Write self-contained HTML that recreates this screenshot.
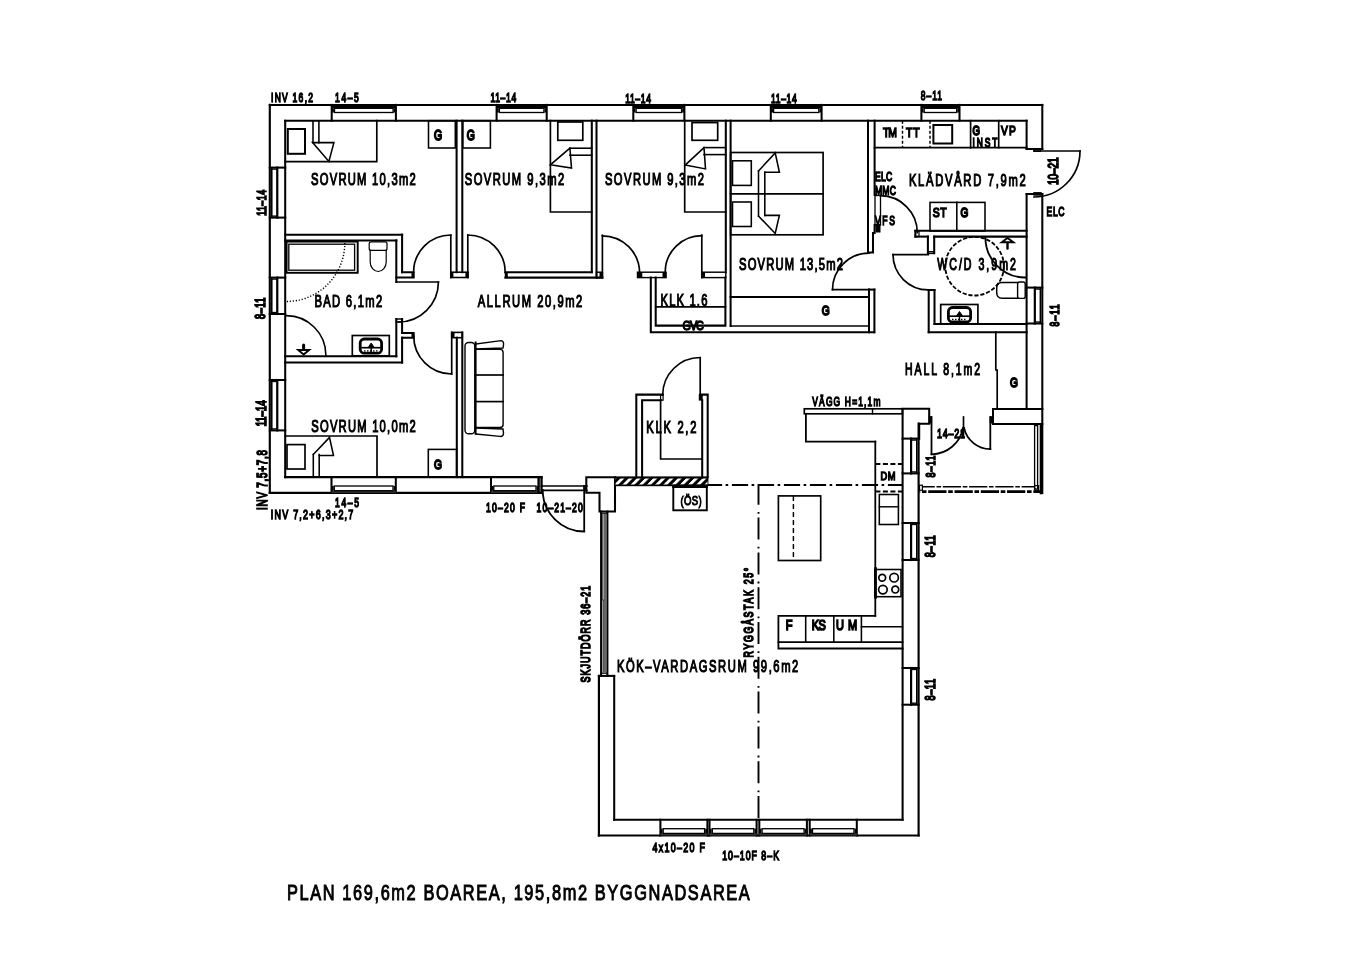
<!DOCTYPE html>
<html><head><meta charset="utf-8"><style>
html,body{margin:0;padding:0;background:#fff;overflow:hidden;}
svg{display:block;filter:grayscale(1);}
text{font-family:"Liberation Sans",sans-serif;fill:#000;stroke:#000;}
</style></head><body>
<svg width="1358" height="960" viewBox="0 0 1358 960" stroke="#000" stroke-linecap="square" fill="none">
<rect x="0" y="0" width="1358" height="960" fill="#fff" stroke="none"/>
<line x1="269.8" y1="104.9" x2="1042.3" y2="104.9" stroke-width="2.0" />
<line x1="285.2" y1="120.7" x2="1026.6" y2="120.7" stroke-width="2.05" />
<line x1="269.8" y1="104.9" x2="269.8" y2="492.8" stroke-width="2.16" />
<line x1="285.2" y1="120.7" x2="285.2" y2="477.1" stroke-width="2.05" />
<line x1="269.8" y1="492.8" x2="541.6" y2="492.8" stroke-width="2.16" />
<line x1="285.2" y1="477.1" x2="541.6" y2="477.1" stroke-width="2.05" />
<line x1="541.6" y1="477.1" x2="541.6" y2="492.8" stroke-width="2.05" />
<line x1="1042.3" y1="104.9" x2="1042.3" y2="149" stroke-width="2.05" />
<line x1="1026.6" y1="120.7" x2="1026.6" y2="149" stroke-width="2.05" />
<line x1="1026.6" y1="149" x2="1042.3" y2="149" stroke-width="2.05" />
<line x1="1042.3" y1="194" x2="1042.3" y2="493" stroke-width="2.05" />
<line x1="1026.6" y1="194" x2="1026.6" y2="409" stroke-width="2.05" />
<line x1="1026.6" y1="194" x2="1042.3" y2="194" stroke-width="2.05" />
<line x1="331.7" y1="104.9" x2="331.7" y2="120.7" stroke-width="2.05" />
<line x1="395.9" y1="104.9" x2="395.9" y2="120.7" stroke-width="2.05" />
<rect x="331.7" y="104.9" width="64.19999999999999" height="3.4000000000000057" stroke="none" fill="#000"/>
<rect x="334.5" y="108.30000000000001" width="58.599999999999966" height="4.199999999999989" stroke-width="1.32" fill="none" />
<rect x="331.7" y="108.30000000000001" width="2.1999999999999886" height="4.199999999999989" stroke="none" fill="#000"/>
<rect x="393.7" y="108.30000000000001" width="2.1999999999999886" height="4.199999999999989" stroke="none" fill="#000"/>
<line x1="496.6" y1="104.9" x2="496.6" y2="120.7" stroke-width="2.05" />
<line x1="546.7" y1="104.9" x2="546.7" y2="120.7" stroke-width="2.05" />
<rect x="496.6" y="104.9" width="50.10000000000002" height="3.4000000000000057" stroke="none" fill="#000"/>
<rect x="499.40000000000003" y="108.30000000000001" width="44.50000000000006" height="4.199999999999989" stroke-width="1.32" fill="none" />
<rect x="496.6" y="108.30000000000001" width="2.1999999999999886" height="4.199999999999989" stroke="none" fill="#000"/>
<rect x="544.5" y="108.30000000000001" width="2.2000000000000455" height="4.199999999999989" stroke="none" fill="#000"/>
<line x1="633.3" y1="104.9" x2="633.3" y2="120.7" stroke-width="2.05" />
<line x1="684.4" y1="104.9" x2="684.4" y2="120.7" stroke-width="2.05" />
<rect x="633.3" y="104.9" width="51.10000000000002" height="3.4000000000000057" stroke="none" fill="#000"/>
<rect x="636.0999999999999" y="108.30000000000001" width="45.500000000000114" height="4.199999999999989" stroke-width="1.32" fill="none" />
<rect x="633.3" y="108.30000000000001" width="2.2000000000000455" height="4.199999999999989" stroke="none" fill="#000"/>
<rect x="682.1999999999999" y="108.30000000000001" width="2.2000000000000455" height="4.199999999999989" stroke="none" fill="#000"/>
<line x1="770.8" y1="104.9" x2="770.8" y2="120.7" stroke-width="2.05" />
<line x1="821.6" y1="104.9" x2="821.6" y2="120.7" stroke-width="2.05" />
<rect x="770.8" y="104.9" width="50.80000000000007" height="3.4000000000000057" stroke="none" fill="#000"/>
<rect x="773.5999999999999" y="108.30000000000001" width="45.20000000000016" height="4.199999999999989" stroke-width="1.32" fill="none" />
<rect x="770.8" y="108.30000000000001" width="2.2000000000000455" height="4.199999999999989" stroke="none" fill="#000"/>
<rect x="819.4" y="108.30000000000001" width="2.2000000000000455" height="4.199999999999989" stroke="none" fill="#000"/>
<line x1="921.4" y1="104.9" x2="921.4" y2="120.7" stroke-width="2.05" />
<line x1="959.5" y1="104.9" x2="959.5" y2="120.7" stroke-width="2.05" />
<rect x="921.4" y="104.9" width="38.10000000000002" height="3.4000000000000057" stroke="none" fill="#000"/>
<rect x="924.1999999999999" y="108.30000000000001" width="32.500000000000114" height="4.199999999999989" stroke-width="1.32" fill="none" />
<rect x="921.4" y="108.30000000000001" width="2.2000000000000455" height="4.199999999999989" stroke="none" fill="#000"/>
<rect x="957.3" y="108.30000000000001" width="2.2000000000000455" height="4.199999999999989" stroke="none" fill="#000"/>
<line x1="269.8" y1="167.6" x2="285.2" y2="167.6" stroke-width="2.05" />
<line x1="269.8" y1="217.6" x2="285.2" y2="217.6" stroke-width="2.05" />
<rect x="271.6" y="169.1" width="5.699999999999989" height="47.0" stroke-width="1.32" fill="none" />
<line x1="271.8" y1="167.6" x2="271.8" y2="217.6" stroke-width="1.2" />
<line x1="277.3" y1="167.6" x2="277.3" y2="217.6" stroke-width="2.16" />
<line x1="269.8" y1="277.6" x2="285.2" y2="277.6" stroke-width="2.05" />
<line x1="269.8" y1="314.0" x2="285.2" y2="314.0" stroke-width="2.05" />
<rect x="271.6" y="279.1" width="5.699999999999989" height="33.39999999999998" stroke-width="1.32" fill="none" />
<line x1="271.8" y1="277.6" x2="271.8" y2="314.0" stroke-width="1.2" />
<line x1="277.3" y1="277.6" x2="277.3" y2="314.0" stroke-width="2.16" />
<line x1="269.8" y1="380.0" x2="285.2" y2="380.0" stroke-width="2.05" />
<line x1="269.8" y1="430.4" x2="285.2" y2="430.4" stroke-width="2.05" />
<rect x="271.6" y="381.5" width="5.699999999999989" height="47.39999999999998" stroke-width="1.32" fill="none" />
<line x1="271.8" y1="380.0" x2="271.8" y2="430.4" stroke-width="1.2" />
<line x1="277.3" y1="380.0" x2="277.3" y2="430.4" stroke-width="2.16" />
<line x1="331.5" y1="492.8" x2="331.5" y2="477.1" stroke-width="2.05" />
<line x1="395.8" y1="492.8" x2="395.8" y2="477.1" stroke-width="2.05" />
<rect x="331.5" y="490.5" width="64.30000000000001" height="2.3" fill="#333" stroke="none"/>
<rect x="334.3" y="486.0" width="58.69999999999999" height="4.699999999999989" stroke-width="1.32" fill="none" />
<rect x="331.5" y="486.0" width="2.1999999999999886" height="4.699999999999989" stroke="none" fill="#000"/>
<rect x="393.6" y="486.0" width="2.1999999999999886" height="4.699999999999989" stroke="none" fill="#000"/>
<line x1="491.0" y1="492.8" x2="491.0" y2="477.1" stroke-width="2.05" />
<line x1="538.8" y1="492.8" x2="538.8" y2="477.1" stroke-width="2.05" />
<rect x="491.0" y="490.5" width="47.799999999999955" height="2.3" fill="#333" stroke="none"/>
<rect x="493.8" y="486.0" width="42.19999999999999" height="4.699999999999989" stroke-width="1.32" fill="none" />
<rect x="491.0" y="486.0" width="2.1999999999999886" height="4.699999999999989" stroke="none" fill="#000"/>
<rect x="536.5999999999999" y="486.0" width="2.2000000000000455" height="4.699999999999989" stroke="none" fill="#000"/>
<line x1="1042.3" y1="287.6" x2="1026.6" y2="287.6" stroke-width="2.05" />
<line x1="1042.3" y1="323.5" x2="1026.6" y2="323.5" stroke-width="2.05" />
<rect x="1034.8" y="289.1" width="5.7000000000000455" height="32.89999999999998" stroke-width="1.32" fill="none" />
<line x1="1040.3" y1="287.6" x2="1040.3" y2="323.5" stroke-width="1.2" />
<line x1="1034.8" y1="287.6" x2="1034.8" y2="323.5" stroke-width="2.16" />
<line x1="541.6" y1="486.0" x2="587" y2="486.0" stroke-width="1.56" />
<line x1="541.6" y1="490.4" x2="587" y2="490.4" stroke-width="1.56" />
<rect x="583.4" y="485.5" width="3.6000000000000227" height="5.5" stroke="none" fill="#000"/>
<line x1="538.3" y1="477.1" x2="538.3" y2="492.8" stroke-width="1.56" />
<line x1="541.4" y1="477.1" x2="541.4" y2="492.8" stroke-width="1.56" />
<line x1="584.2" y1="486" x2="584.2" y2="531" stroke-width="1.8" />
<path d="M542.70,490.00 A41.5,41.5 0 0 0 584.20,531.50" stroke-width="1.8" fill="none" />
<polyline points="586.3,477.3 615,477.3 615,511.5 599.5,511.5 599.5,492.8 586.3,492.8 586.3,477.3" stroke-width="2.05" fill="none" />
<line x1="598.9" y1="675.9" x2="598.9" y2="835.5" stroke-width="2.16" />
<line x1="614.2" y1="675.9" x2="614.2" y2="819.8" stroke-width="2.05" />
<line x1="598.9" y1="675.9" x2="614.2" y2="675.9" stroke-width="2.05" />
<line x1="598.9" y1="835.5" x2="918.6" y2="835.5" stroke-width="2.16" />
<line x1="614.2" y1="819.8" x2="902.6" y2="819.8" stroke-width="2.05" />
<line x1="918.6" y1="423.7" x2="918.6" y2="835.5" stroke-width="2.16" />
<line x1="902.6" y1="409" x2="902.6" y2="819.8" stroke-width="2.05" />
<line x1="660.4" y1="835.5" x2="660.4" y2="819.8" stroke-width="2.05" />
<line x1="707.4" y1="835.5" x2="707.4" y2="819.8" stroke-width="2.05" />
<rect x="660.4" y="833.2" width="47.0" height="2.3" fill="#333" stroke="none"/>
<rect x="663.1999999999999" y="828.7" width="41.40000000000009" height="4.699999999999932" stroke-width="1.32" fill="none" />
<rect x="660.4" y="828.7" width="2.2000000000000455" height="4.699999999999932" stroke="none" fill="#000"/>
<rect x="705.1999999999999" y="828.7" width="2.2000000000000455" height="4.699999999999932" stroke="none" fill="#000"/>
<line x1="709.5" y1="835.5" x2="709.5" y2="819.8" stroke-width="2.05" />
<line x1="756.6" y1="835.5" x2="756.6" y2="819.8" stroke-width="2.05" />
<rect x="709.5" y="833.2" width="47.10000000000002" height="2.3" fill="#333" stroke="none"/>
<rect x="712.3" y="828.7" width="41.500000000000114" height="4.699999999999932" stroke-width="1.32" fill="none" />
<rect x="709.5" y="828.7" width="2.2000000000000455" height="4.699999999999932" stroke="none" fill="#000"/>
<rect x="754.4" y="828.7" width="2.2000000000000455" height="4.699999999999932" stroke="none" fill="#000"/>
<line x1="759.3" y1="835.5" x2="759.3" y2="819.8" stroke-width="2.05" />
<line x1="806.9" y1="835.5" x2="806.9" y2="819.8" stroke-width="2.05" />
<rect x="759.3" y="833.2" width="47.60000000000002" height="2.3" fill="#333" stroke="none"/>
<rect x="762.0999999999999" y="828.7" width="42.000000000000114" height="4.699999999999932" stroke-width="1.32" fill="none" />
<rect x="759.3" y="828.7" width="2.2000000000000455" height="4.699999999999932" stroke="none" fill="#000"/>
<rect x="804.6999999999999" y="828.7" width="2.2000000000000455" height="4.699999999999932" stroke="none" fill="#000"/>
<line x1="809.7" y1="835.5" x2="809.7" y2="819.8" stroke-width="2.05" />
<line x1="856.8" y1="835.5" x2="856.8" y2="819.8" stroke-width="2.05" />
<rect x="809.7" y="833.2" width="47.09999999999991" height="2.3" fill="#333" stroke="none"/>
<rect x="812.5" y="828.7" width="41.5" height="4.699999999999932" stroke-width="1.32" fill="none" />
<rect x="809.7" y="828.7" width="2.2000000000000455" height="4.699999999999932" stroke="none" fill="#000"/>
<rect x="854.5999999999999" y="828.7" width="2.2000000000000455" height="4.699999999999932" stroke="none" fill="#000"/>
<line x1="918.6" y1="438.6" x2="902.6" y2="438.6" stroke-width="2.05" />
<line x1="918.6" y1="473.4" x2="902.6" y2="473.4" stroke-width="2.05" />
<rect x="911.1" y="440.1" width="5.7000000000000455" height="31.799999999999955" stroke-width="1.32" fill="none" />
<line x1="916.6" y1="438.6" x2="916.6" y2="473.4" stroke-width="1.2" />
<line x1="911.1" y1="438.6" x2="911.1" y2="473.4" stroke-width="2.16" />
<line x1="918.6" y1="523.0" x2="902.6" y2="523.0" stroke-width="2.05" />
<line x1="918.6" y1="560.0" x2="902.6" y2="560.0" stroke-width="2.05" />
<rect x="911.1" y="524.5" width="5.7000000000000455" height="34.0" stroke-width="1.32" fill="none" />
<line x1="916.6" y1="523.0" x2="916.6" y2="560.0" stroke-width="1.2" />
<line x1="911.1" y1="523.0" x2="911.1" y2="560.0" stroke-width="2.16" />
<line x1="918.6" y1="668.0" x2="902.6" y2="668.0" stroke-width="2.05" />
<line x1="918.6" y1="704.7" x2="902.6" y2="704.7" stroke-width="2.05" />
<rect x="911.1" y="669.5" width="5.7000000000000455" height="33.700000000000045" stroke-width="1.32" fill="none" />
<line x1="916.6" y1="668.0" x2="916.6" y2="704.7" stroke-width="1.2" />
<line x1="911.1" y1="668.0" x2="911.1" y2="704.7" stroke-width="2.16" />
<line x1="601.1" y1="511.6" x2="601.1" y2="675.9" stroke-width="2.04" />
<line x1="607.4" y1="511.6" x2="607.4" y2="675.9" stroke-width="2.04" />
<line x1="602.9" y1="514" x2="602.9" y2="600" stroke-width="0.96" />
<line x1="605.0" y1="514" x2="605.0" y2="672" stroke-width="1.2" />
<line x1="603.2" y1="600" x2="603.2" y2="672" stroke-width="0.96" />
<line x1="601.1" y1="513.2" x2="607.4" y2="513.2" stroke-width="1.2" />
<line x1="601.1" y1="673.2" x2="607.4" y2="673.2" stroke-width="1.2" />
<defs><pattern id="hatch" patternUnits="userSpaceOnUse" width="8.2" height="8" patternTransform="skewX(-45)"><rect x="0" y="0" width="4.0" height="8" fill="#fff" stroke="none"/></pattern></defs>
<rect x="614.5" y="476.4" width="93.89999999999998" height="9.800000000000011" stroke="none" fill="#000"/>
<rect x="615.5" y="478.5" width="92" height="6.0" fill="url(#hatch)" stroke="none"/>
<line x1="673.3" y1="486.8" x2="706.8" y2="486.8" stroke-width="2.2" />
<polyline points="376.8,120.7 376.8,161.7 285.2,161.7" stroke-width="1.68" fill="none" />
<rect x="287.8" y="129.0" width="17.19999999999999" height="24.80000000000001" stroke-width="2.0" fill="none" />
<line x1="313.0" y1="120.7" x2="313.0" y2="142.6" stroke-width="1.56" />
<line x1="318.9" y1="120.7" x2="318.9" y2="142.6" stroke-width="1.56" />
<polygon points="312.6,142.6 333.9,142.6 328.9,161.4 312.6,142.6" stroke-width="1.56" fill="none" />
<rect x="428.5" y="120.7" width="26.80000000000001" height="27.299999999999997" stroke-width="1.56" fill="none" />
<rect x="462.8" y="120.7" width="27.599999999999966" height="27.299999999999997" stroke-width="1.56" fill="none" />
<line x1="456.6" y1="120.7" x2="456.6" y2="272.2" stroke-width="2.05" />
<line x1="462.3" y1="120.7" x2="462.3" y2="272.2" stroke-width="2.05" />
<rect x="450.8" y="272.2" width="17.19999999999999" height="5.300000000000011" stroke-width="1.56" fill="none" />
<rect x="450.3" y="272.0" width="3.099999999999966" height="5.899999999999977" stroke="none" fill="#000"/>
<rect x="465.4" y="272.0" width="3.1000000000000227" height="5.899999999999977" stroke="none" fill="#000"/>
<line x1="450.8" y1="235.2" x2="450.8" y2="277.5" stroke-width="1.68" />
<path d="M450.80,235.00 A37.2,37.2 0 0 0 413.60,272.20" stroke-width="1.68" fill="none" />
<line x1="467.8" y1="235.2" x2="467.8" y2="277.5" stroke-width="1.68" />
<path d="M467.80,235.00 A37.4,37.4 0 0 1 505.20,272.40" stroke-width="1.68" fill="none" />
<line x1="285.2" y1="234.7" x2="402.1" y2="234.7" stroke-width="2.05" />
<line x1="285.2" y1="240.4" x2="396.3" y2="240.4" stroke-width="2.05" />
<line x1="402.1" y1="234.7" x2="402.1" y2="272.2" stroke-width="2.05" />
<line x1="396.3" y1="240.4" x2="396.3" y2="282.0" stroke-width="2.05" />
<polyline points="402.1,272.2 413.6,272.2 413.6,277.5 396.3,277.5" stroke-width="2.05" fill="none" />
<rect x="411.5" y="272.0" width="2.6999999999999886" height="5.899999999999977" stroke="none" fill="#000"/>
<line x1="396.3" y1="282.0" x2="438.4" y2="282.0" stroke-width="1.68" />
<path d="M438.40,282.00 A40.0,40.0 0 0 1 398.40,322.00" stroke-width="1.68" fill="none" />
<rect x="396.3" y="319.0" width="5.800000000000011" height="3.0" stroke-width="1.44" fill="none" />
<line x1="402.1" y1="319.0" x2="402.1" y2="333.0" stroke-width="2.05" />
<polyline points="402.1,333.0 413.6,333.0 413.6,337.7 402.1,337.7" stroke-width="2.05" fill="none" />
<rect x="411.5" y="332.8" width="2.6999999999999886" height="5.199999999999989" stroke="none" fill="#000"/>
<line x1="402.1" y1="337.7" x2="402.1" y2="362.5" stroke-width="2.05" />
<line x1="396.3" y1="319.0" x2="396.3" y2="356.3" stroke-width="2.05" />
<line x1="285.2" y1="356.3" x2="396.3" y2="356.3" stroke-width="2.05" />
<line x1="285.2" y1="362.5" x2="402.1" y2="362.5" stroke-width="2.05" />
<rect x="286.6" y="241.6" width="71.09999999999997" height="31.200000000000017" stroke-width="1.92" fill="none" />
<rect x="288.8" y="244.2" width="65.80000000000001" height="26.0" stroke-width="1.32" fill="none" />
<rect x="369.2" y="241.8" width="17.8" height="8.6" rx="2" stroke-width="1.2" fill="none"/>
<path d="M370.2,250.4 L370.2,262 A8,9.5 0 0 0 386.2,262 L386.2,250.4" stroke-width="1.2" fill="none"/>
<path d="M344.80,243.00 A58.5,58.5 0 0 1 286.30,301.50" stroke-width="1.44" fill="none" stroke-linecap="butt" stroke-dasharray="1.2 1.8"/>
<path d="M286.30,315.60 A39.6,39.6 0 0 1 325.90,355.20" stroke-width="1.56" fill="none" />
<line x1="303.6" y1="345.0" x2="303.6" y2="349.0" stroke-width="3.0" stroke-linecap="round"/>
<polygon points="298.2,350.0 309.2,350.0 303.6,354.6" stroke-width="1.92" fill="none" />
<rect x="352.3" y="335.5" width="37.0" height="20.30000000000001" stroke-width="1.68" fill="none" />
<rect x="360.2" y="339.0" width="21.4" height="14.2" rx="4" stroke-width="2.8" fill="none"/>
<line x1="362" y1="347.7" x2="380" y2="347.7" stroke-width="1.68" />
<polygon points="368.4,347.2 371.2,343.0 374.0,347.2" fill="#000" stroke-width="1.0"/>
<line x1="371.2" y1="347.7" x2="371.2" y2="352.5" stroke-width="1.44" />
<line x1="364" y1="350.8" x2="378" y2="350.8" stroke-width="1.2" stroke-linecap="butt" stroke-dasharray="1.5 1.5"/>
<rect x="451.7" y="332.4" width="10.600000000000023" height="5.300000000000011" stroke-width="1.56" fill="none" />
<rect x="451.2" y="332.2" width="3.3000000000000114" height="5.800000000000011" stroke="none" fill="#000"/>
<line x1="456.8" y1="337.7" x2="456.8" y2="477.1" stroke-width="2.05" />
<line x1="462.3" y1="332.4" x2="462.3" y2="477.1" stroke-width="2.05" />
<line x1="451.7" y1="332.4" x2="451.7" y2="374.0" stroke-width="1.68" />
<path d="M451.70,374.00 A38.0,38.0 0 0 1 413.70,336.00" stroke-width="1.68" fill="none" />
<polyline points="285.2,436.0 377.0,436.0 377.0,477.1" stroke-width="1.68" fill="none" />
<rect x="287.0" y="444.6" width="18.0" height="24.399999999999977" stroke-width="1.68" fill="none" />
<line x1="313.3" y1="454.5" x2="313.3" y2="477.1" stroke-width="1.56" />
<line x1="319.2" y1="454.5" x2="319.2" y2="477.1" stroke-width="1.56" />
<polyline points="313.3,454.5 329.5,437.4 333.5,455.5 319.2,455.5" stroke-width="1.56" fill="none" />
<rect x="428.3" y="449.4" width="28.30000000000001" height="27.700000000000045" stroke-width="1.56" fill="none" />
<line x1="505.4" y1="272.2" x2="591.8" y2="272.2" stroke-width="2.05" />
<line x1="505.4" y1="277.6" x2="602.4" y2="277.6" stroke-width="2.05" />
<rect x="504.8" y="272.0" width="3.0" height="6.0" stroke="none" fill="#000"/>
<line x1="591.8" y1="120.7" x2="591.8" y2="272.2" stroke-width="2.05" />
<line x1="596.5" y1="120.7" x2="596.5" y2="277.6" stroke-width="2.05" />
<rect x="596.5" y="272.2" width="5.899999999999977" height="5.400000000000034" stroke-width="1.44" fill="none" />
<rect x="599.5" y="272.0" width="3.3999999999999773" height="6.0" stroke="none" fill="#000"/>
<polyline points="550.4,120.7 550.4,212.0 591.8,212.0" stroke-width="1.68" fill="none" />
<rect x="557.8" y="122.0" width="25.0" height="18.30000000000001" stroke-width="1.68" fill="none" />
<line x1="569.9" y1="148.2" x2="591.8" y2="148.2" stroke-width="1.56" />
<line x1="569.9" y1="155.2" x2="591.8" y2="155.2" stroke-width="1.56" />
<polyline points="569.9,148.2 550.4,164.8 571.5,168.0 569.9,148.2" stroke-width="1.56" fill="none" />
<line x1="602.4" y1="235.2" x2="602.4" y2="277.6" stroke-width="1.68" />
<path d="M602.40,235.80 A37.2,37.2 0 0 1 639.60,273.00" stroke-width="1.68" fill="none" />
<rect x="637.5" y="272.2" width="28.5" height="5.400000000000034" stroke-width="1.44" fill="none" />
<rect x="637.2" y="272.0" width="5.099999999999909" height="6.0" stroke="none" fill="#000"/>
<rect x="662.5" y="272.0" width="3.7999999999999545" height="6.0" stroke="none" fill="#000"/>
<line x1="701.8" y1="235.2" x2="701.8" y2="277.6" stroke-width="1.68" />
<path d="M701.80,235.60 A36.6,36.6 0 0 0 665.20,272.20" stroke-width="1.68" fill="none" />
<rect x="701.8" y="272.2" width="24.0" height="5.400000000000034" stroke-width="1.44" fill="none" />
<rect x="701.5" y="272.0" width="3.5" height="6.0" stroke="none" fill="#000"/>
<line x1="725.8" y1="120.7" x2="725.8" y2="272.2" stroke-width="2.05" />
<line x1="730.6" y1="120.7" x2="730.6" y2="326.0" stroke-width="2.05" />
<polyline points="684.7,120.7 684.7,212.0 725.8,212.0" stroke-width="1.68" fill="none" />
<rect x="692.0" y="122.6" width="25.700000000000045" height="17.700000000000017" stroke-width="1.68" fill="none" />
<line x1="704.0" y1="147.6" x2="725.8" y2="147.6" stroke-width="1.56" />
<line x1="704.0" y1="154.6" x2="725.8" y2="154.6" stroke-width="1.56" />
<polyline points="704.0,147.6 685.2,165.1 705.5,168.9 704.0,147.6" stroke-width="1.56" fill="none" />
<polyline points="650.8,277.6 650.8,332.2 874.2,332.2" stroke-width="2.05" fill="none" />
<polyline points="655.7,277.6 655.7,325.6 725.4,325.6 725.4,277.6" stroke-width="2.05" fill="none" />
<line x1="655.7" y1="306.8" x2="725.4" y2="306.8" stroke-width="1.68" />
<rect x="730.6" y="152.5" width="92.5" height="82.30000000000001" stroke-width="1.68" fill="none" />
<line x1="730.6" y1="193.8" x2="823.1" y2="193.8" stroke-width="1.68" />
<rect x="732.5" y="160.8" width="18.799999999999955" height="24.599999999999994" stroke-width="1.56" fill="none" />
<rect x="732.5" y="202.0" width="18.799999999999955" height="24.5" stroke-width="1.56" fill="none" />
<line x1="758.5" y1="171.0" x2="758.5" y2="216.0" stroke-width="1.56" />
<line x1="764.8" y1="172.3" x2="764.8" y2="215.4" stroke-width="1.56" />
<polyline points="758.5,171.0 775.2,152.9 779.4,172.3 764.8,172.3" stroke-width="1.56" fill="none" />
<polyline points="764.8,215.4 779.4,215.4 775.2,233.5 758.5,216.0" stroke-width="1.56" fill="none" />
<line x1="730.6" y1="297.0" x2="869.0" y2="297.0" stroke-width="1.92" />
<line x1="730.6" y1="326.0" x2="869.0" y2="326.0" stroke-width="1.68" />
<line x1="868.0" y1="120.7" x2="868.0" y2="252.5" stroke-width="2.05" />
<line x1="874.6" y1="120.7" x2="874.6" y2="195.0" stroke-width="2.05" />
<polyline points="874.6,225 874.6,233 873.0,233 873.0,252.5 868.0,252.5" stroke-width="2.05" fill="none" />
<line x1="869.0" y1="289.6" x2="869.0" y2="332.2" stroke-width="2.05" />
<line x1="874.4" y1="289.6" x2="874.4" y2="332.2" stroke-width="2.05" />
<line x1="869.0" y1="289.6" x2="874.4" y2="289.6" stroke-width="2.05" />
<line x1="832.5" y1="289.6" x2="869.0" y2="289.6" stroke-width="1.68" />
<path d="M832.50,289.60 A36.5,36.5 0 0 1 869.00,253.10" stroke-width="1.68" fill="none" />
<rect x="875.0" y="195.5" width="5.5" height="29.5" stroke-width="1.32" fill="none" />
<rect x="875.5" y="224.0" width="5.0" height="8.5" stroke="none" fill="#000"/>
<line x1="874.6" y1="147.7" x2="1026.6" y2="147.7" stroke-width="1.8" />
<line x1="902.5" y1="120.7" x2="902.5" y2="147.7" stroke-width="1.44" stroke-linecap="butt" stroke-dasharray="3 2"/>
<line x1="930.0" y1="120.7" x2="930.0" y2="147.7" stroke-width="1.44" stroke-linecap="butt" stroke-dasharray="3 2"/>
<line x1="970.6" y1="120.7" x2="970.6" y2="147.7" stroke-width="1.68" />
<line x1="998.7" y1="120.7" x2="998.7" y2="147.7" stroke-width="1.68" />
<rect x="933.4" y="125.0" width="18.800000000000068" height="18.5" stroke-width="2.0" fill="none" />
<path d="M880.30,195.70 A37.0,37.0 0 0 1 917.30,232.70" stroke-width="1.68" fill="none" />
<line x1="915.4" y1="230.8" x2="1026.6" y2="230.8" stroke-width="2.05" />
<line x1="915.4" y1="236.6" x2="927.9" y2="236.6" stroke-width="2.05" />
<line x1="934.2" y1="236.6" x2="1026.6" y2="236.6" stroke-width="2.05" />
<rect x="915.4" y="230.8" width="3.6000000000000227" height="5.799999999999983" stroke-width="1.2" fill="none" />
<line x1="915.4" y1="230.8" x2="915.4" y2="236.6" stroke-width="2.05" />
<rect x="930.0" y="202.4" width="55.0" height="28.599999999999994" stroke-width="1.56" fill="none" />
<line x1="956.8" y1="202.4" x2="956.8" y2="231.0" stroke-width="1.56" />
<rect x="1034.0" y="149.0" width="6.5" height="2.1999999999999886" stroke-width="1.44" fill="none" />
<rect x="1034.0" y="192.8" width="7.0" height="2.1999999999999886" stroke-width="1.44" fill="none" />
<line x1="1034.0" y1="151.0" x2="1080.0" y2="151.0" stroke-width="1.68" />
<path d="M1080.00,151.00 A46.0,46.0 0 0 1 1034.00,197.00" stroke-width="1.68" fill="none" />
<line x1="927.9" y1="236.6" x2="927.9" y2="253.2" stroke-width="2.05" />
<line x1="934.2" y1="236.6" x2="934.2" y2="253.2" stroke-width="2.05" />
<line x1="927.9" y1="251.7" x2="934.2" y2="251.7" stroke-width="1.44" />
<line x1="927.9" y1="253.4" x2="934.2" y2="253.4" stroke-width="1.44" />
<line x1="893.0" y1="254.6" x2="928.3" y2="254.6" stroke-width="1.68" />
<path d="M893.00,254.60 A35.3,35.3 0 0 0 928.30,289.90" stroke-width="1.68" fill="none" />
<line x1="928.7" y1="290.0" x2="928.7" y2="332.2" stroke-width="2.05" />
<line x1="934.5" y1="290.0" x2="934.5" y2="324.0" stroke-width="2.05" />
<line x1="928.7" y1="290.0" x2="934.5" y2="290.0" stroke-width="2.05" />
<line x1="934.5" y1="324.0" x2="1026.6" y2="324.0" stroke-width="2.05" />
<line x1="928.7" y1="332.2" x2="1026.6" y2="332.2" stroke-width="2.05" />
<rect x="940.7" y="304.5" width="37.19999999999993" height="19.30000000000001" stroke-width="1.68" fill="none" />
<rect x="948.4" y="307.5" width="22.2" height="14.4" rx="4" stroke-width="2.8" fill="none"/>
<line x1="950" y1="316.2" x2="969" y2="316.2" stroke-width="1.68" />
<polygon points="956.6,315.7 959.5,311.5 962.4,315.7" fill="#000" stroke-width="1.0"/>
<line x1="959.5" y1="316.2" x2="959.5" y2="321" stroke-width="1.44" />
<line x1="952" y1="319.3" x2="967" y2="319.3" stroke-width="1.2" stroke-linecap="butt" stroke-dasharray="1.5 1.5"/>
<rect x="1017.6" y="282.0" width="7.6" height="16.4" rx="2" stroke-width="1.4" fill="none"/>
<path d="M1017.6,282.4 L1002,282.4 Q996.7,282.4 996.7,288 L996.7,292.5 Q996.7,298.2 1002,298.2 L1017.6,298.2" stroke-width="1.5" fill="none"/>
<circle cx="974.6" cy="266.2" r="29.3" stroke-width="1.8" fill="none" stroke-linecap="butt" stroke-dasharray="4.2 1.8"/>
<path d="M985.40,237.50 A40.0,40.0 0 0 0 1025.40,277.50" stroke-width="1.8" fill="none" />
<polygon points="1001.8,242.3 1007.5,238.0 1013.4,242.3" stroke-width="1.92" fill="none" />
<line x1="1007.5" y1="243" x2="1007.5" y2="248.5" stroke-width="2.4" stroke-linecap="round"/>
<polyline points="995.8,332.2 995.8,370 997.2,370 997.2,409.0" stroke-width="1.68" fill="none" />
<line x1="993.0" y1="409.0" x2="1042.3" y2="409.0" stroke-width="2.05" />
<line x1="993.0" y1="424.0" x2="1042.3" y2="424.0" stroke-width="2.05" />
<line x1="993.0" y1="409.0" x2="993.0" y2="424.0" stroke-width="2.05" />
<rect x="990.6" y="416.5" width="2.6000000000000227" height="7.0" stroke="none" fill="#000"/>
<polyline points="902.4,408.8 929.2,408.8 929.2,423.7 919.2,423.7 919.2,438.6" stroke-width="2.05" fill="none" />
<rect x="929.0" y="416.5" width="2.7999999999999545" height="7.0" stroke="none" fill="#000"/>
<rect x="929.4" y="417.0" width="2.1000000000000227" height="5.300000000000011" stroke-width="1.2" fill="none" />
<rect x="990.3" y="417.0" width="2.300000000000068" height="5.300000000000011" stroke-width="1.2" fill="none" />
<line x1="931.5" y1="417.0" x2="931.5" y2="454.2" stroke-width="1.8" />
<path d="M931.50,454.30 A32.0,32.0 0 0 0 963.01,427.86" stroke-width="1.8" fill="none" />
<line x1="990.3" y1="417.0" x2="990.3" y2="449.0" stroke-width="1.8" />
<path d="M990.30,449.10 A26.8,26.8 0 0 1 964.09,427.87" stroke-width="1.8" fill="none" />
<line x1="963.5" y1="417.0" x2="963.5" y2="436.5" stroke-width="1.68" />
<line x1="919.5" y1="491.6" x2="1042.2" y2="491.6" stroke-width="2.8" stroke-linecap="butt" stroke-dasharray="18.27 1.7 4.6 1.7" stroke-dashoffset="-8.73"/>
<line x1="922.4" y1="486.8" x2="1034.5" y2="486.8" stroke-width="1.4" stroke-linecap="butt" stroke-dasharray="18.27 1.7 4.6 1.7" stroke-dashoffset="5.87"/>
<line x1="1041.0" y1="424.5" x2="1041.0" y2="493.0" stroke-width="2.6" />
<rect x="1034.6" y="425.6" width="3.0" height="63.39999999999998" stroke-width="1.32" fill="none" />
<rect x="919.5" y="485.2" width="2.8999999999999773" height="5.0" stroke-width="1.2" fill="none" />
<rect x="1034.6" y="485.6" width="4.0" height="4.599999999999966" stroke-width="1.2" fill="none" />
<line x1="707.8" y1="485.0" x2="902.6" y2="485.0" stroke-width="1.9" stroke-linecap="butt" stroke-dasharray="16.2 3.5 2.6 3.7" stroke-dashoffset="1.9"/>
<line x1="758.5" y1="484.2" x2="758.5" y2="819.8" stroke-width="1.9" stroke-linecap="butt" stroke-dasharray="22 7.2 1.8 3.8" stroke-dashoffset="1.4"/>
<rect x="673.3" y="485.6" width="33.5" height="24.69999999999999" stroke-width="1.92" fill="none" />
<rect x="778.4" y="495.9" width="42.30000000000007" height="64.60000000000002" stroke-width="1.68" fill="none" />
<line x1="793.4" y1="495.9" x2="793.4" y2="560.5" stroke-width="1.44" stroke-linecap="butt" stroke-dasharray="5 3"/>
<line x1="875.3" y1="441.6" x2="875.3" y2="615.8" stroke-width="1.8" />
<polyline points="875.3,615.8 778.4,615.8 778.4,648.5 902.6,648.5" stroke-width="1.8" fill="none" />
<line x1="778.4" y1="642.2" x2="902.6" y2="642.2" stroke-width="1.68" />
<line x1="805.7" y1="615.8" x2="805.7" y2="642.2" stroke-width="1.56" />
<line x1="833.8" y1="615.8" x2="833.8" y2="642.2" stroke-width="1.56" />
<line x1="861.4" y1="615.8" x2="861.4" y2="642.2" stroke-width="1.56" />
<line x1="861.4" y1="626.7" x2="902.6" y2="626.7" stroke-width="1.44" />
<rect x="874.8" y="569.5" width="26.200000000000045" height="27.200000000000045" stroke-width="1.56" fill="none" />
<line x1="875.6" y1="568.5" x2="875.6" y2="597.5" stroke-width="2.6" />
<circle cx="882.2" cy="577.7" r="3.4" stroke-width="1.68" fill="none" />
<circle cx="894.1" cy="577.7" r="4.3" stroke-width="1.68" fill="none" />
<circle cx="882.9" cy="589.6" r="4.3" stroke-width="1.68" fill="none" />
<circle cx="895.3" cy="589.6" r="3.4" stroke-width="1.68" fill="none" />
<rect x="879.3" y="494.5" width="19.100000000000023" height="30.0" stroke-width="1.56" fill="none" />
<line x1="879.3" y1="506.8" x2="898.4" y2="506.8" stroke-width="1.44" />
<line x1="875.4" y1="464.0" x2="902.6" y2="464.0" stroke-width="2.04" stroke-linecap="butt" stroke-dasharray="5 2.5"/>
<line x1="875.4" y1="491.5" x2="902.6" y2="491.5" stroke-width="2.04" stroke-linecap="butt" stroke-dasharray="5 2.5"/>
<rect x="804.3" y="408.8" width="98.10000000000002" height="5.0" stroke-width="1.68" fill="none" />
<line x1="872.5" y1="408.8" x2="872.5" y2="413.8" stroke-width="1.44" />
<polyline points="805.9,413.8 805.9,441.6 875.3,441.6" stroke-width="1.8" fill="none" />
<polyline points="636.3,477.3 636.3,394.6 662.6,394.6" stroke-width="2.05" fill="none" />
<polyline points="642.1,477.3 642.1,400.2 660.6,400.2" stroke-width="2.05" fill="none" />
<rect x="660.6" y="394.6" width="2.5" height="5.599999999999966" stroke-width="1.2" fill="none" />
<polyline points="700.2,394.6 707.7,394.6 707.7,477.3" stroke-width="2.05" fill="none" />
<line x1="702.2" y1="400.2" x2="702.2" y2="477.3" stroke-width="2.05" />
<rect x="698.8" y="394.2" width="3.900000000000091" height="6.400000000000034" stroke="none" fill="#000"/>
<line x1="700.2" y1="358.0" x2="700.2" y2="399.0" stroke-width="1.68" />
<path d="M700.20,357.50 A37.5,37.5 0 0 0 662.70,395.00" stroke-width="1.68" fill="none" />
<polyline points="660.6,400.2 660.6,459.0 702.2,459.0" stroke-width="1.68" fill="none" />
<rect x="465.0" y="342.5" width="9.8" height="91.3" rx="3.5" stroke-width="1.4" fill="none"/>
<line x1="475.6" y1="342.5" x2="475.6" y2="433.8" stroke-width="2.0" />
<path d="M475.6,349.4 L500,349.4 Q503.1,349.4 503.1,352.5 L503.1,424.4 Q503.1,427.5 500,427.5 L475.6,427.5" stroke-width="1.4" fill="none"/>
<line x1="475.6" y1="375.0" x2="503.1" y2="375.0" stroke-width="1.68" />
<line x1="475.6" y1="401.6" x2="503.1" y2="401.6" stroke-width="1.68" />
<path d="M476.3,344 L501,340.6 Q504,341 503.5,345 L503,348 L476.3,349" stroke-width="1.4" fill="none"/>
<path d="M476.3,428 L503,429 L503.5,433 Q503.5,436.8 500,436.4 L476.3,434" stroke-width="1.4" fill="none"/>
<text transform="translate(271.0 101.6) scale(0.66 1)" font-size="12.90" textLength="63.64" lengthAdjust="spacing" stroke-width="1.2" vector-effect="non-scaling-stroke" font-weight="normal">INV 16,2</text>
<text transform="translate(335.1 101.6) scale(0.66 1)" font-size="12.90" textLength="35.76" lengthAdjust="spacing" stroke-width="1.2" vector-effect="non-scaling-stroke" font-weight="normal">14–5</text>
<text transform="translate(490.4 101.6) scale(0.66 1)" font-size="12.90" textLength="39.09" lengthAdjust="spacing" stroke-width="1.2" vector-effect="non-scaling-stroke" font-weight="normal">11–14</text>
<text transform="translate(625.2 103.3) scale(0.66 1)" font-size="12.90" textLength="38.94" lengthAdjust="spacing" stroke-width="1.2" vector-effect="non-scaling-stroke" font-weight="normal">11–14</text>
<text transform="translate(771.0 103.3) scale(0.66 1)" font-size="12.90" textLength="38.94" lengthAdjust="spacing" stroke-width="1.2" vector-effect="non-scaling-stroke" font-weight="normal">11–14</text>
<text transform="translate(920.8 100.2) scale(0.66 1)" font-size="12.90" textLength="32.12" lengthAdjust="spacing" stroke-width="1.2" vector-effect="non-scaling-stroke" font-weight="normal">8–11</text>
<text transform="translate(311.0 185.1) scale(0.66 1)" font-size="16.96" textLength="158.79" lengthAdjust="spacing" stroke-width="1.0" vector-effect="non-scaling-stroke" font-weight="normal">SOVRUM 10,3m2</text>
<text transform="translate(464.8 185.1) scale(0.66 1)" font-size="16.96" textLength="150.61" lengthAdjust="spacing" stroke-width="1.0" vector-effect="non-scaling-stroke" font-weight="normal">SOVRUM 9,3m2</text>
<text transform="translate(605.0 185.2) scale(0.66 1)" font-size="16.96" textLength="150.00" lengthAdjust="spacing" stroke-width="1.0" vector-effect="non-scaling-stroke" font-weight="normal">SOVRUM 9,3m2</text>
<text transform="translate(739.0 269.5) scale(0.66 1)" font-size="16.96" textLength="157.58" lengthAdjust="spacing" stroke-width="1.0" vector-effect="non-scaling-stroke" font-weight="normal">SOVRUM 13,5m2</text>
<text transform="translate(908.9 185.9) scale(0.66 1)" font-size="16.96" textLength="177.12" lengthAdjust="spacing" stroke-width="1.0" vector-effect="non-scaling-stroke" font-weight="normal">KLÄDVÅRD 7,9m2</text>
<text transform="translate(314.4 306.6) scale(0.66 1)" font-size="16.96" textLength="102.73" lengthAdjust="spacing" stroke-width="1.0" vector-effect="non-scaling-stroke" font-weight="normal">BAD 6,1m2</text>
<text transform="translate(477.8 306.6) scale(0.66 1)" font-size="16.96" textLength="158.33" lengthAdjust="spacing" stroke-width="1.0" vector-effect="non-scaling-stroke" font-weight="normal">ALLRUM 20,9m2</text>
<text transform="translate(660.5 305.9) scale(0.66 1)" font-size="16.96" textLength="71.06" lengthAdjust="spacing" stroke-width="1.0" vector-effect="non-scaling-stroke" font-weight="normal">KLK 1.6</text>
<text transform="translate(646.3 432.7) scale(0.66 1)" font-size="16.96" textLength="75.91" lengthAdjust="spacing" stroke-width="1.0" vector-effect="non-scaling-stroke" font-weight="normal">KLK 2,2</text>
<text transform="translate(905.1 375.1) scale(0.66 1)" font-size="15.94" textLength="113.48" lengthAdjust="spacing" stroke-width="1.0" vector-effect="non-scaling-stroke" font-weight="normal">HALL 8,1m2</text>
<text transform="translate(937.2 269.8) scale(0.66 1)" font-size="16.09" textLength="119.39" lengthAdjust="spacing" stroke-width="1.0" vector-effect="non-scaling-stroke" font-weight="normal">WC/D 3,9m2</text>
<text transform="translate(311.3 432.3) scale(0.66 1)" font-size="16.96" textLength="158.18" lengthAdjust="spacing" stroke-width="1.0" vector-effect="non-scaling-stroke" font-weight="normal">SOVRUM 10,0m2</text>
<text transform="translate(616.9 671.6) scale(0.66 1)" font-size="16.96" textLength="274.85" lengthAdjust="spacing" stroke-width="1.0" vector-effect="non-scaling-stroke" font-weight="normal">KÖK–VARDAGSRUM 99,6m2</text>
<text transform="translate(682.6 330.0) scale(0.8 1)" font-size="13.48" textLength="26.50" lengthAdjust="spacing" stroke-width="1.2" vector-effect="non-scaling-stroke" font-weight="normal">GVC</text>
<text transform="translate(680.5 505.2) scale(0.72 1)" font-size="13.33" textLength="29.31" lengthAdjust="spacing" stroke-width="0.9" vector-effect="non-scaling-stroke" font-weight="normal">(ÖS)</text>
<text transform="translate(812.3 405.8) scale(0.66 1)" font-size="12.75" textLength="103.33" lengthAdjust="spacing" stroke-width="1.2" vector-effect="non-scaling-stroke" font-weight="normal">VÄGG H=1,1m</text>
<text transform="translate(880.5 480.4) scale(0.8 1)" font-size="11.59" textLength="18.62" lengthAdjust="spacing" stroke-width="1.2" vector-effect="non-scaling-stroke" font-weight="normal">DM</text>
<text transform="translate(937.0 437.7) scale(0.66 1)" font-size="13.62" textLength="42.42" lengthAdjust="spacing" stroke-width="1.2" vector-effect="non-scaling-stroke" font-weight="normal">14–21</text>
<text transform="translate(335.0 507.3) scale(0.66 1)" font-size="12.90" textLength="36.36" lengthAdjust="spacing" stroke-width="1.2" vector-effect="non-scaling-stroke" font-weight="normal">14–5</text>
<text transform="translate(270.8 519.0) scale(0.66 1)" font-size="13.62" textLength="125.00" lengthAdjust="spacing" stroke-width="1.2" vector-effect="non-scaling-stroke" font-weight="normal">INV 7,2+6,3+2,7</text>
<text transform="translate(486.0 511.5) scale(0.66 1)" font-size="13.04" textLength="59.09" lengthAdjust="spacing" stroke-width="1.2" vector-effect="non-scaling-stroke" font-weight="normal">10–20 F</text>
<text transform="translate(536.6 511.5) scale(0.66 1)" font-size="13.04" textLength="69.85" lengthAdjust="spacing" stroke-width="1.2" vector-effect="non-scaling-stroke" font-weight="normal">10–21–20</text>
<text transform="translate(652.6 851.8) scale(0.66 1)" font-size="13.48" textLength="79.39" lengthAdjust="spacing" stroke-width="1.2" vector-effect="non-scaling-stroke" font-weight="normal">4x10–20 F</text>
<text transform="translate(722.2 860.4) scale(0.66 1)" font-size="13.33" textLength="86.06" lengthAdjust="spacing" stroke-width="1.2" vector-effect="non-scaling-stroke" font-weight="normal">10–10F 8–K</text>
<text transform="translate(287.0 899.8) scale(0.72 1)" font-size="22.75" textLength="642.78" lengthAdjust="spacing" stroke-width="0.9" vector-effect="non-scaling-stroke" font-weight="normal">PLAN 169,6m2 BOAREA, 195,8m2 BYGGNADSAREA</text>
<text transform="translate(434.0 140.1) scale(0.75 1)" font-size="13.91" textLength="10.00" lengthAdjust="spacing" stroke-width="1.6" vector-effect="non-scaling-stroke" font-weight="normal">G</text>
<text transform="translate(466.7 140.1) scale(0.75 1)" font-size="13.91" textLength="9.87" lengthAdjust="spacing" stroke-width="1.6" vector-effect="non-scaling-stroke" font-weight="normal">G</text>
<text transform="translate(434.0 469.3) scale(0.75 1)" font-size="13.62" textLength="9.73" lengthAdjust="spacing" stroke-width="1.6" vector-effect="non-scaling-stroke" font-weight="normal">G</text>
<text transform="translate(821.8 315.0) scale(0.75 1)" font-size="13.62" textLength="8.93" lengthAdjust="spacing" stroke-width="1.6" vector-effect="non-scaling-stroke" font-weight="normal">G</text>
<text transform="translate(1010.0 386.8) scale(0.75 1)" font-size="13.62" textLength="10.13" lengthAdjust="spacing" stroke-width="1.6" vector-effect="non-scaling-stroke" font-weight="normal">G</text>
<text transform="translate(883.1 136.7) scale(0.8 1)" font-size="13.04" textLength="17.25" lengthAdjust="spacing" stroke-width="1.3" vector-effect="non-scaling-stroke" font-weight="normal">TM</text>
<text transform="translate(906.1 136.7) scale(0.8 1)" font-size="13.04" textLength="16.88" lengthAdjust="spacing" stroke-width="1.3" vector-effect="non-scaling-stroke" font-weight="normal">TT</text>
<text transform="translate(972.4 135.2) scale(0.75 1)" font-size="12.75" textLength="9.87" lengthAdjust="spacing" stroke-width="1.6" vector-effect="non-scaling-stroke" font-weight="normal">G</text>
<text transform="translate(972.4 147.2) scale(0.66 1)" font-size="12.75" textLength="37.73" lengthAdjust="spacing" stroke-width="1.3" vector-effect="non-scaling-stroke" font-weight="normal">INST</text>
<text transform="translate(1001.0 134.9) scale(0.8 1)" font-size="12.75" textLength="18.38" lengthAdjust="spacing" stroke-width="1.3" vector-effect="non-scaling-stroke" font-weight="normal">VP</text>
<text transform="translate(874.9 181.2) scale(0.66 1)" font-size="13.04" textLength="26.36" lengthAdjust="spacing" stroke-width="1.2" vector-effect="non-scaling-stroke" font-weight="normal">ELC</text>
<text transform="translate(874.9 195.1) scale(0.66 1)" font-size="13.04" textLength="31.97" lengthAdjust="spacing" stroke-width="1.2" vector-effect="non-scaling-stroke" font-weight="normal">MMC</text>
<text transform="translate(874.9 225.4) scale(0.66 1)" font-size="13.04" textLength="30.61" lengthAdjust="spacing" stroke-width="1.2" vector-effect="non-scaling-stroke" font-weight="normal">VFS</text>
<text transform="translate(932.8 217.2) scale(0.8 1)" font-size="13.04" textLength="17.25" lengthAdjust="spacing" stroke-width="1.3" vector-effect="non-scaling-stroke" font-weight="normal">ST</text>
<text transform="translate(960.5 217.2) scale(0.75 1)" font-size="13.33" textLength="9.73" lengthAdjust="spacing" stroke-width="1.6" vector-effect="non-scaling-stroke" font-weight="normal">G</text>
<text transform="translate(1046.6 215.9) scale(0.66 1)" font-size="13.04" textLength="27.12" lengthAdjust="spacing" stroke-width="1.2" vector-effect="non-scaling-stroke" font-weight="normal">ELC</text>
<text transform="translate(785.7 630.1) scale(0.8 1)" font-size="13.77" textLength="7.12" lengthAdjust="spacing" stroke-width="1.4" vector-effect="non-scaling-stroke" font-weight="normal">F</text>
<text transform="translate(811.8 630.1) scale(0.8 1)" font-size="13.77" textLength="17.63" lengthAdjust="spacing" stroke-width="1.4" vector-effect="non-scaling-stroke" font-weight="normal">KS</text>
<text transform="translate(836.1 630.1) scale(0.8 1)" font-size="13.77" textLength="8.00" lengthAdjust="spacing" stroke-width="1.4" vector-effect="non-scaling-stroke" font-weight="normal">U</text>
<text transform="translate(848.0 630.1) scale(0.8 1)" font-size="13.77" textLength="8.75" lengthAdjust="spacing" stroke-width="1.4" vector-effect="non-scaling-stroke" font-weight="normal">M</text>
<text font-size="15.22" textLength="41.97" lengthAdjust="spacing" stroke-width="1.4" vector-effect="non-scaling-stroke" transform="translate(1057.5 185.0) rotate(-90) scale(0.66 1)">10–21</text>
<text font-size="13.19" textLength="39.09" lengthAdjust="spacing" stroke-width="1.4" vector-effect="non-scaling-stroke" transform="translate(265.8 215.8) rotate(-90) scale(0.66 1)">11–14</text>
<text font-size="13.77" textLength="32.42" lengthAdjust="spacing" stroke-width="1.4" vector-effect="non-scaling-stroke" transform="translate(265.0 319.0) rotate(-90) scale(0.66 1)">8–11</text>
<text font-size="14.93" textLength="39.85" lengthAdjust="spacing" stroke-width="1.4" vector-effect="non-scaling-stroke" transform="translate(265.8 426.6) rotate(-90) scale(0.66 1)">11–14</text>
<text font-size="14.78" textLength="90.91" lengthAdjust="spacing" stroke-width="1.4" vector-effect="non-scaling-stroke" transform="translate(267.0 510.0) rotate(-90) scale(0.66 1)">INV 7,5+7,8</text>
<text font-size="13.04" textLength="33.18" lengthAdjust="spacing" stroke-width="1.4" vector-effect="non-scaling-stroke" transform="translate(1059.0 326.4) rotate(-90) scale(0.66 1)">8–11</text>
<text font-size="13.62" textLength="33.18" lengthAdjust="spacing" stroke-width="1.4" vector-effect="non-scaling-stroke" transform="translate(934.6 477.4) rotate(-90) scale(0.66 1)">8–11</text>
<text font-size="13.77" textLength="33.03" lengthAdjust="spacing" stroke-width="1.4" vector-effect="non-scaling-stroke" transform="translate(935.1 557.2) rotate(-90) scale(0.66 1)">8–11</text>
<text font-size="13.77" textLength="32.73" lengthAdjust="spacing" stroke-width="1.4" vector-effect="non-scaling-stroke" transform="translate(934.8 700.6) rotate(-90) scale(0.66 1)">8–11</text>
<text font-size="13.62" textLength="146.52" lengthAdjust="spacing" stroke-width="1.4" vector-effect="non-scaling-stroke" transform="translate(590.4 682.5) rotate(-90) scale(0.66 1)">SKJUTDÖRR 36–21</text>
<text font-size="13.33" textLength="135.91" lengthAdjust="spacing" stroke-width="1.4" vector-effect="non-scaling-stroke" transform="translate(753.0 657.4) rotate(-90) scale(0.66 1)">RYGGÅSTAK 25°</text>
</svg></body></html>
